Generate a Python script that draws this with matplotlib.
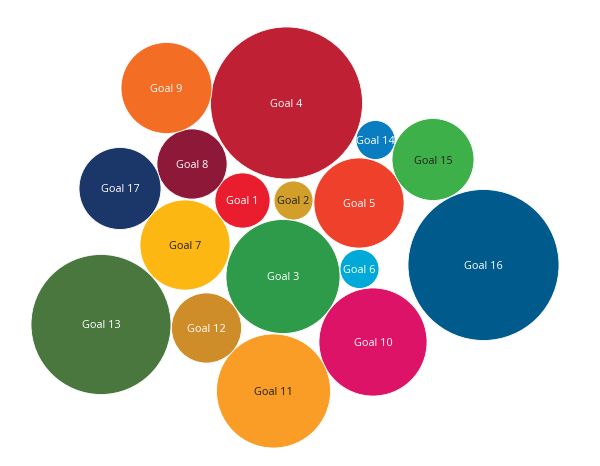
import matplotlib.pyplot as plt
from matplotlib.patches import Circle
import numpy as np

# etiquetas de los objetivos
goals = ["Goal %d" % i for i in range(1, 18)]
# valor de cada objetivo (el area del circulo es proporcional al valor)
values = [7.6, 3.8, 32.5, 57.8, 20.3, 3.8, 20.3, 12.3, 20.7, 29.2,
          32.5, 12.3, 49.0, 3.8, 16.8, 57.0, 16.8]

# posicion de cada burbuja en el lienzo (pixeles)
cx = [242.5, 293.5, 283, 286.5, 359, 359.5, 185, 192, 166.5, 373,
      273.5, 206.5, 101, 375.5, 433, 483.5, 120]
cy = [200.5, 200.5, 276.5, 103, 203, 269, 245, 164, 88, 342,
      391, 328, 324.5, 140, 159.5, 265, 188.5]

colors = ["#E91D2D", "#D19F2A", "#2E9B4A", "#C02033", "#EF402B", "#00A9D8",
          "#FDB713", "#8E1838", "#F36D25", "#DD1367", "#F99D26", "#CF8D2A",
          "#4A773E", "#0A7DC0", "#3EB049", "#005A8C", "#1B3668"]
dark_text = {"Goal 2", "Goal 7", "Goal 11", "Goal 15"}

plt.rcParams['font.family'] = ['Open Sans', 'DejaVu Sans']

fig = plt.figure(figsize=(6, 4.66), dpi=100)
ax = fig.add_axes([0, 0, 1, 1])
ax.set_xlim(0, 600)
ax.set_ylim(466, 0)
ax.set_aspect('equal')
ax.axis('off')

for g, v, x, y, c in zip(goals, values, cx, cy, colors):
    r = 10 * np.sqrt(v)
    ax.add_patch(Circle((x, y), r, facecolor=c, edgecolor='white', linewidth=0.6))
    tc = '#222222' if g in dark_text else 'white'
    ax.text(x, y, g, ha='center', va='center_baseline', fontsize=7.8, color=tc)

fig.savefig('out.png', dpi=100, facecolor='white')
